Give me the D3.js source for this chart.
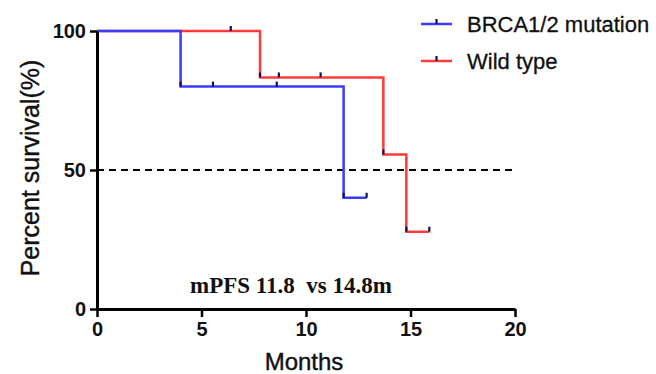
<!DOCTYPE html>
<html>
<head>
<meta charset="utf-8">
<script src="https://cdn.jsdelivr.net/npm/d3@7"></script>
<style>
  body { margin: 0; background: #fff; }
  svg { display: block; }
</style>
</head>
<body>
<div id="graphique"></div>
<script>
// data
const groups = ['BRCA1/2 mutation', 'Wild type']
const colors = ['#3b3bff', '#ff3b3b']

// step points: time (months) and percent survival
const brcaTimes = [0, 4.0, 11.8]
const brcaSurv = [100, 80, 40]
const brcaEnd = 12.9
const brcaCensor = [4.0, 5.55, 8.6, 11.8, 12.9]

const wildTimes = [0, 7.8, 13.7, 14.8]
const wildSurv = [100, 83.3, 55.6, 27.8]
const wildEnd = 15.9
const wildCensor = [6.4, 7.8, 8.7, 10.7, 13.7, 14.8, 15.9]

const xTicks = [0, 5, 10, 15, 20]
const yTicks = [0, 50, 100]

const width = 656, height = 374
const margin = { top: 31, right: 141, bottom: 65, left: 97 }

const x = d3.scaleLinear().domain([0, 20]).range([margin.left, width - margin.right])
const y = d3.scaleLinear().domain([0, 100]).range([height - margin.bottom, margin.top])

const svg = d3.select('#graphique').append('svg')
    .attr('width', width)
    .attr('height', height)
    .style('font-family', 'Liberation Sans, Arial, sans-serif')

// survival value at time t
function survAt(times, surv, t) {
    let s = surv[0]
    for (let i = 0; i < times.length; i++) {
        if (times[i] <= t) s = surv[i]
    }
    return s
}

function stepPoints(times, surv, end) {
    let pts = times.map((t, i) => [t, surv[i]])
    pts.push([end, surv[surv.length - 1]])
    return pts
}

const series = [
    { times: brcaTimes, surv: brcaSurv, end: brcaEnd, censor: brcaCensor },
    { times: wildTimes, surv: wildSurv, end: wildEnd, censor: wildCensor }
]

// 50% reference line
svg.append('line')
    .attr('x1', x(0)).attr('x2', x(20))
    .attr('y1', y(50)).attr('y2', y(50))
    .attr('stroke', '#000')
    .attr('stroke-width', 2)
    .attr('stroke-dasharray', '7,5')

const line = d3.line()
    .x(d => x(d[0]))
    .y(d => y(d[1]))
    .curve(d3.curveStepAfter)

// draw wild type first so blue sits on top where they overlap
for (let k = series.length - 1; k >= 0; k--) {
    const s = series[k]
    svg.append('path')
        .datum(stepPoints(s.times, s.surv, s.end))
        .attr('d', line)
        .attr('fill', 'none')
        .attr('stroke', colors[k])
        .attr('stroke-width', 2.5)
}

// censor marks
series.forEach((s, k) => {
    svg.selectAll('.censor' + k)
        .data(s.censor)
        .enter().append('line')
        .attr('class', 'censor' + k)
        .attr('x1', d => x(d)).attr('x2', d => x(d))
        .attr('y1', d => y(survAt(s.times, s.surv, d)) - 5)
        .attr('y2', d => y(survAt(s.times, s.surv, d)))
        .attr('stroke', '#101060')
        .attr('stroke-width', 2.2)
})

// x axis
const xAxis = svg.append('g')
    .attr('transform', 'translate(0,' + y(0) + ')')
    .call(d3.axisBottom(x).tickValues(xTicks).tickSize(8).tickSizeOuter(0).tickPadding(5))
xAxis.select('.domain').attr('stroke-width', 3)
xAxis.selectAll('.tick line').attr('stroke-width', 2.5)
xAxis.selectAll('text')
    .attr('font-size', 20).attr('font-weight', 'bold').attr('fill', '#111')
    .style('font-family', 'Liberation Sans, Arial, sans-serif')

// y axis
const yAxis = svg.append('g')
    .attr('transform', 'translate(' + x(0) + ',0)')
    .call(d3.axisLeft(y).tickValues(yTicks).tickSize(7).tickSizeOuter(0).tickPadding(4))
yAxis.select('.domain').attr('stroke-width', 3)
yAxis.selectAll('.tick line').attr('stroke-width', 2.5)
yAxis.selectAll('text')
    .attr('font-size', 20).attr('font-weight', 'bold').attr('fill', '#111')
    .style('font-family', 'Liberation Sans, Arial, sans-serif')

// axis titles
svg.append('text')
    .attr('x', (x(0) + x(20)) / 2 - 2)
    .attr('y', 370)
    .attr('text-anchor', 'middle')
    .attr('font-size', 24)
    .attr('fill', '#111')
    .attr('stroke', '#111').attr('stroke-width', 0.4)
    .text('Months')

svg.append('text')
    .attr('transform', 'translate(39,' + 168 + ') rotate(-90)')
    .attr('text-anchor', 'middle')
    .attr('font-size', 25)
    .attr('fill', '#111')
    .attr('stroke', '#111').attr('stroke-width', 0.4)
    .text('Percent survival(%)')

// annotation
svg.append('text')
    .attr('x', 291)
    .attr('y', 293)
    .attr('text-anchor', 'middle')
    .attr('font-size', 23)
    .attr('font-weight', 'bold')
    .style('font-family', 'Liberation Serif, Times New Roman, serif')
    .style('white-space', 'pre')
    .attr('fill', '#111')
    .text('mPFS 11.8  vs 14.8m')

// legend
const legend = svg.append('g')
groups.forEach((g, k) => {
    const ly = 24 + k * 37
    legend.append('line')
        .attr('x1', 421).attr('x2', 452)
        .attr('y1', ly).attr('y2', ly)
        .attr('stroke', colors[k]).attr('stroke-width', 2.5)
    legend.append('line')
        .attr('x1', 436.5).attr('x2', 436.5)
        .attr('y1', ly - 5).attr('y2', ly)
        .attr('stroke', '#101060').attr('stroke-width', 2.2)
    legend.append('text')
        .attr('x', 467).attr('y', ly + 8)
        .attr('font-size', 22)
        .attr('fill', '#111')
        .attr('stroke', '#111').attr('stroke-width', 0.3)
        .text(g)
})
</script>
</body>
</html>
